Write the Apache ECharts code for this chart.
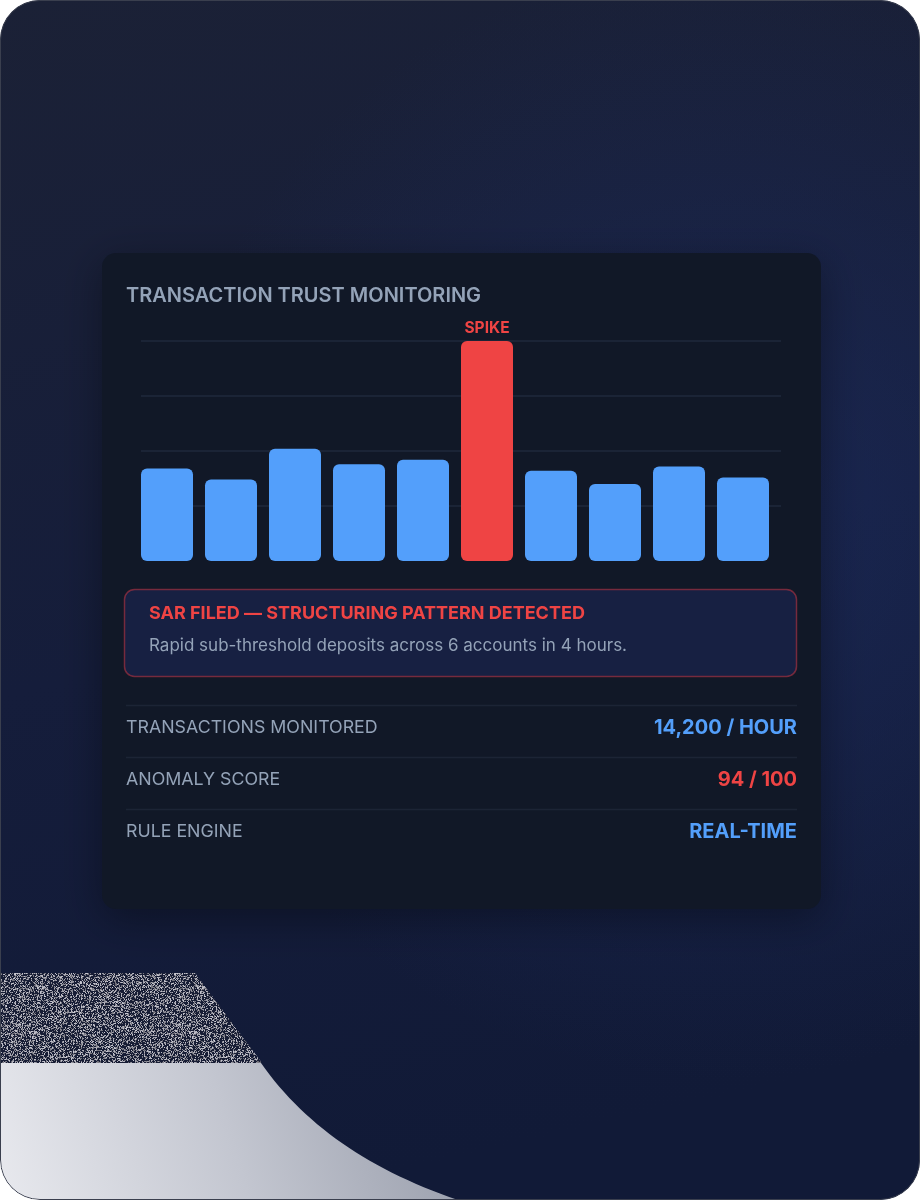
<!DOCTYPE html>
<html>
<head>
<meta charset="utf-8">
<script src="https://cdn.jsdelivr.net/npm/echarts@6/dist/echarts.min.js"></script>
<style>
  html, body { margin: 0; padding: 0; background: #ffffff; }
  .frame { position: relative; width: 920px; height: 1200px; border-radius: 40px; overflow: hidden; }
  #main { position: absolute; left: 0; top: 0; width: 920px; height: 1200px; }
  .frame-border { position: absolute; left: 0; top: 0; width: 920px; height: 1200px; box-sizing: border-box;
    border: 1.5px solid #3a3f4e; border-radius: 40px; pointer-events: none; }
</style>
</head>
<body>
<div class="frame">
  <div id="main"></div>
  <div class="frame-border"></div>
</div>
<script>
// data
const categories = ['T1', 'T2', 'T3', 'T4', 'T5', 'T6', 'T7', 'T8', 'T9', 'T10']
const volumes = [42, 37, 51, 44, 46, 100, 41, 35, 43, 38]
const spikeIndex = 5
const spikeLabel = 'SPIKE'
const statLabels = ['TRANSACTIONS MONITORED', 'ANOMALY SCORE', 'RULE ENGINE']
const statValues = ['14,200 / HOUR', '94 / 100', 'REAL-TIME']
const statColors = ['#539ffb', '#ef4444', '#539ffb']

const BLUE = '#539ffb'
const RED = '#ef4444'
const MUTED = '#94a3b8'
const FONT = 'Inter, "Noto Sans", sans-serif'

// noise texture for the bottom-left decoration
function noiseCanvas() {
  const c = document.createElement('canvas')
  c.width = 160; c.height = 160
  const ctx = c.getContext('2d')
  ctx.fillStyle = '#171d35'
  ctx.fillRect(0, 0, 160, 160)
  let seed = 12345
  const rnd = () => { seed = (seed * 1103515245 + 12345) % 2147483648; return seed / 2147483648 }
  for (let y = 0; y < 160; y++) {
    for (let x = 0; x < 160; x++) {
      if (rnd() < 0.45) {
        const v = 95 + Math.floor(rnd() * 110)
        ctx.fillStyle = 'rgb(' + v + ',' + v + ',' + (v + 10) + ')'
        ctx.fillRect(x, y, 1, 1)
      }
    }
  }
  return c
}

// outline of the light curved shape (quadratic edge)
function curveShape() {
  const pts = [[0, 1063], [261, 1063]]
  const p0 = [261, 1063], c = [325, 1155], p1 = [458, 1200]
  for (let i = 1; i <= 30; i++) {
    const t = i / 30, u = 1 - t
    pts.push([u * u * p0[0] + 2 * u * t * c[0] + t * t * p1[0], u * u * p0[1] + 2 * u * t * c[1] + t * t * p1[1]])
  }
  pts.push([0, 1200])
  return pts
}

// text helper, y is the visual middle of the caps
function label(text, x, y, color, font, align) {
  return {
    type: 'text', z: 5, silent: true,
    style: { text: text, x: x, y: y + 1.5, fill: color, font: font, align: align || 'left', verticalAlign: 'middle' }
  }
}

const graphics = [
  // page background
  {
    type: 'rect', z: -10, silent: true,
    shape: { x: 0, y: 0, width: 920, height: 1200 },
    style: {
      fill: new echarts.graphic.LinearGradient(0, 0, 0.3, 1, [
        { offset: 0, color: '#1b2136' },
        { offset: 0.55, color: '#151d3b' },
        { offset: 1, color: '#111a37' }
      ])
    }
  },
  {
    type: 'circle', z: -9, silent: true,
    shape: { cx: 720, cy: 520, r: 560 },
    style: {
      fill: new echarts.graphic.RadialGradient(0.5, 0.5, 0.5, [
        { offset: 0, color: 'rgba(30,48,105,0.5)' },
        { offset: 1, color: 'rgba(30,48,105,0)' }
      ])
    }
  },
  // noise strip
  {
    type: 'polygon', z: -8, silent: true,
    shape: { points: [[0, 973], [195, 973], [262, 1063], [0, 1063]] },
    style: { fill: { image: noiseCanvas(), repeat: 'repeat' } }
  },
  // light curved shape
  {
    type: 'polygon', z: -8, silent: true,
    shape: { points: curveShape() },
    style: {
      fill: new echarts.graphic.LinearGradient(0, 1, 1, 0, [
        { offset: 0, color: '#e8e9ee' },
        { offset: 0.5, color: '#c3c6d0' },
        { offset: 1, color: '#979caa' }
      ])
    }
  },
  // card
  {
    type: 'rect', z: -5, silent: true,
    shape: { x: 102, y: 253, width: 719, height: 656, r: 14 },
    style: { fill: '#111827', shadowBlur: 40, shadowColor: 'rgba(0,0,0,0.35)', shadowOffsetY: 10 }
  },
  label('TRANSACTION TRUST MONITORING', 126, 294, MUTED, '600 20px ' + FONT),
  // alert box
  {
    type: 'rect', z: -4, silent: true,
    shape: { x: 124.5, y: 589.5, width: 672, height: 87, r: 10 },
    style: { fill: '#172042', stroke: 'rgba(200,55,70,0.55)', lineWidth: 1.5 }
  },
  label('SAR FILED \u2014 STRUCTURING PATTERN DETECTED', 149, 612, RED, '700 18px ' + FONT),
  label('Rapid sub-threshold deposits across 6 accounts in 4 hours.', 149, 644, MUTED, '400 17px ' + FONT)
]

// stat rows
const rowY = [726, 778, 830]
statLabels.forEach(function (name, i) {
  graphics.push({
    type: 'line', z: -4, silent: true,
    shape: { x1: 126, y1: rowY[i] - 20.5, x2: 797, y2: rowY[i] - 20.5 },
    style: { stroke: '#1c2435', lineWidth: 1.5 }
  })
  graphics.push(label(name, 126, rowY[i], MUTED, '400 17.8px ' + FONT))
  graphics.push(label(statValues[i], 797, rowY[i], statColors[i], '700 20px ' + FONT, 'right'))
})

const myChart = echarts.init(document.getElementById('main'), null, { renderer: 'canvas' })
const option = {
  backgroundColor: 'transparent',
  animation: false,
  graphic: graphics,
  grid: [
    { left: 135, top: 341, width: 640, height: 220 },
    { left: 141, top: 341, width: 640, height: 220 }
  ],
  xAxis: [
    { type: 'category', gridIndex: 0, data: categories, show: false },
    { type: 'category', gridIndex: 1, data: categories, show: false }
  ],
  yAxis: [
    { type: 'value', gridIndex: 0, min: 0, max: 100, interval: 25, show: false },
    {
      type: 'value', gridIndex: 1, min: 0, max: 100, interval: 25,
      axisLine: { show: false }, axisTick: { show: false }, axisLabel: { show: false },
      splitLine: { show: true, showMinLine: false, lineStyle: { color: '#1b2436', width: 2 } }
    }
  ],
  series: [
    {
      type: 'bar',
      xAxisIndex: 0,
      yAxisIndex: 0,
      barWidth: 52,
      data: volumes.map(function (v, i) {
        if (i === spikeIndex) {
          return {
            value: v,
            itemStyle: { color: RED },
            label: {
              show: true, position: 'top', distance: 5, formatter: spikeLabel,
              color: RED, fontFamily: FONT, fontWeight: 700, fontSize: 15.5
            }
          }
        }
        return v
      }),
      itemStyle: { color: BLUE, borderRadius: 6 }
    }
  ]
}
myChart.setOption(option)
</script>
</body>
</html>
